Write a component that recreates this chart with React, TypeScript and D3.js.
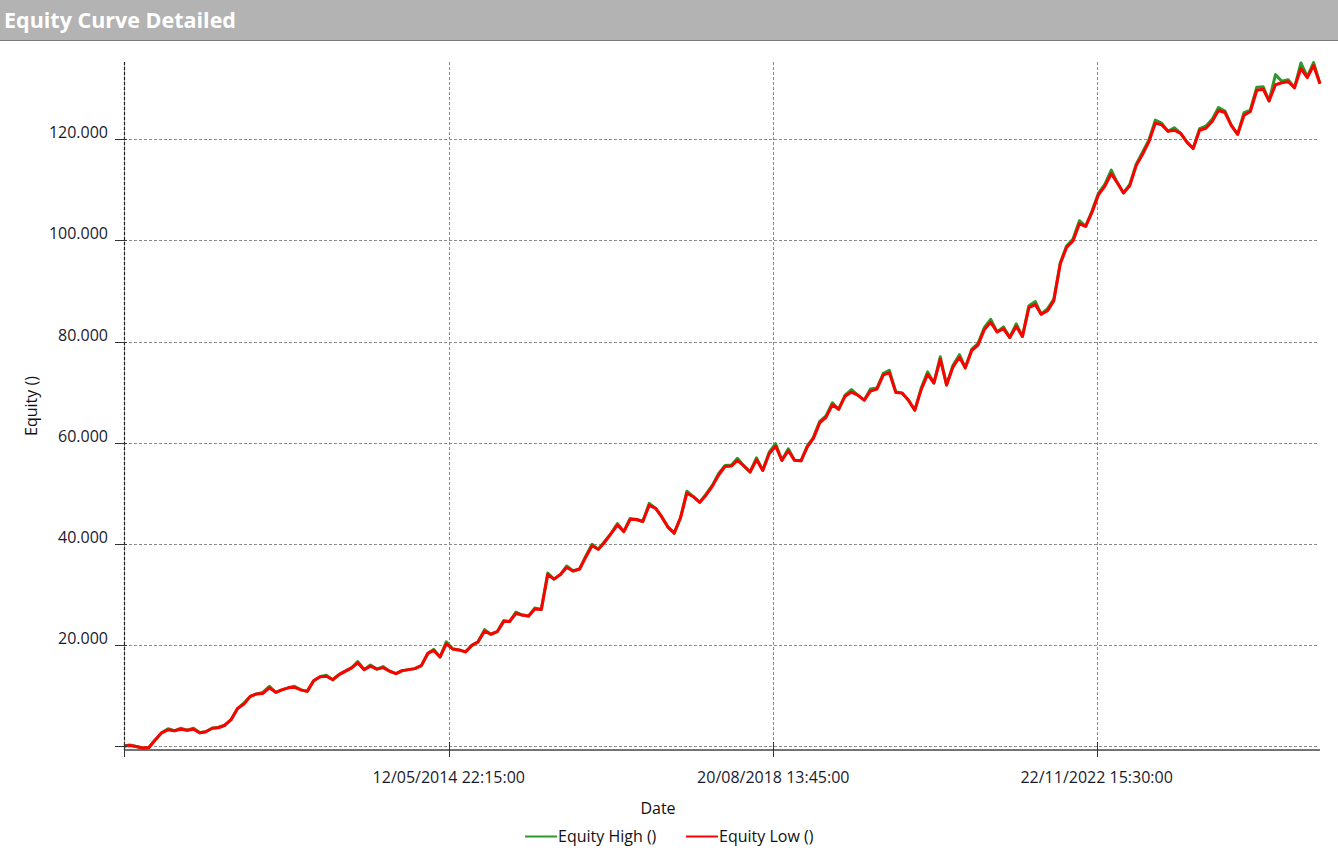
import React from "react";
import * as d3 from "d3";

const W = 1338;
const H = 857;

// Monthly equity samples (thousands), Feb 2010 .. Nov 2025
const equityLow = [
  /*2010*/ 0, 0.1, -0.1, -0.4, -0.3, 1.2, 2.6, 3.2, 3.0, 3.3, 3.1,
  /*2011*/ 3.3, 2.6, 2.8, 3.5, 3.6, 4.1, 5.2, 7.4, 8.3, 9.8, 10.3, 10.4,
  /*2012*/ 11.5, 10.6, 11.1, 11.5, 11.6, 11.1, 10.8, 12.9, 13.7, 13.8, 13.1, 14.1,
  /*2013*/ 14.8, 15.5, 16.4, 15.1, 15.8, 15.2, 15.5, 14.8, 14.3, 14.9, 15.1, 15.3,
  /*2014*/ 15.9, 18.3, 18.9, 17.6, 20.2, 19.2, 19.0, 18.6, 19.9, 20.6, 22.7, 22.1,
  /*2015*/ 22.6, 24.6, 24.6, 26.2, 25.9, 25.7, 27.1, 27.0, 33.9, 33.0, 33.9, 35.3,
  /*2016*/ 34.6, 35.0, 37.3, 39.6, 38.9, 40.3, 42.0, 43.7, 42.4, 44.8, 44.8, 44.4,
  /*2017*/ 47.6, 47.0, 45.4, 43.3, 42.1, 45.2, 50.0, 49.3, 48.2, 49.6, 51.4, 53.6,
  /*2018*/ 55.3, 55.4, 56.5, 55.4, 54.2, 56.6, 54.5, 57.8, 59.3, 56.5, 58.4, 56.5,
  /*2019*/ 56.4, 59.2, 60.8, 63.9, 65.0, 67.5, 66.6, 69.2, 70.0, 69.4, 68.4, 70.2,
  /*2020*/ 70.6, 73.4, 73.8, 69.9, 69.8, 68.4, 66.4, 70.5, 73.5, 71.8, 76.5, 71.4,
  /*2021*/ 75.0, 76.9, 74.8, 78.2, 79.3, 82.4, 83.8, 81.9, 82.5, 80.8, 83.0, 81.0,
  /*2022*/ 86.7, 87.3, 85.4, 86.1, 88.1, 95.4, 98.6, 99.9, 103.3, 102.8, 105.6, 109.0,
  /*2023*/ 110.7, 113.2, 111.5, 109.4, 110.8, 114.8, 117.0, 119.5, 123.2, 122.9, 121.6, 121.8,
  /*2024*/ 121.2, 119.4, 118.2, 121.8, 122.2, 123.6, 125.7, 125.3, 122.7, 121.0, 124.8, 125.5,
  /*2025*/ 129.7, 129.9, 127.6, 130.8, 131.2, 131.4, 130.2, 134.0, 132.2, 134.6, 131.0,
];

const equityHigh = [
  /*2010*/ 0, 0.2, -0.1, -0.4, -0.3, 1.2, 2.6, 3.4, 3.0, 3.5, 3.1,
  /*2011*/ 3.5, 2.6, 2.8, 3.5, 3.7, 4.1, 5.2, 7.4, 8.5, 9.8, 10.3, 10.6,
  /*2012*/ 11.8, 10.6, 11.1, 11.5, 11.8, 11.1, 10.8, 12.9, 13.7, 14.0, 13.1, 14.1,
  /*2013*/ 14.8, 15.5, 16.7, 15.1, 16.0, 15.2, 15.7, 14.8, 14.3, 14.9, 15.1, 15.3,
  /*2014*/ 15.9, 18.3, 19.1, 17.6, 20.6, 19.2, 19.0, 18.6, 19.9, 20.6, 23.0, 22.1,
  /*2015*/ 22.6, 24.8, 24.6, 26.5, 25.9, 25.7, 27.3, 27.0, 34.2, 33.0, 33.9, 35.6,
  /*2016*/ 34.6, 35.0, 37.5, 39.9, 38.9, 40.5, 42.0, 44.0, 42.4, 45.0, 44.8, 44.4,
  /*2017*/ 48.0, 47.0, 45.4, 43.3, 42.1, 45.2, 50.4, 49.3, 48.2, 49.8, 51.6, 53.9,
  /*2018*/ 55.5, 55.6, 56.9, 55.4, 54.2, 57.0, 54.5, 58.1, 59.8, 56.5, 58.8, 56.5,
  /*2019*/ 56.4, 59.4, 61.0, 64.2, 65.3, 67.9, 66.6, 69.4, 70.5, 69.4, 68.4, 70.6,
  /*2020*/ 70.8, 73.7, 74.3, 70.1, 69.8, 68.4, 66.4, 70.8, 74.0, 71.8, 77.0, 71.4,
  /*2021*/ 75.3, 77.4, 74.8, 78.5, 79.6, 82.8, 84.4, 81.9, 82.9, 80.8, 83.5, 81.0,
  /*2022*/ 87.1, 87.9, 85.4, 86.5, 88.4, 95.6, 98.9, 100.3, 103.9, 102.8, 105.9, 109.3,
  /*2023*/ 111.1, 113.9, 111.5, 109.4, 111.1, 115.1, 117.4, 119.9, 123.8, 123.2, 121.6, 122.3,
  /*2024*/ 121.2, 119.4, 118.2, 122.1, 122.6, 124.0, 126.3, 125.6, 122.7, 121.0, 125.3, 125.8,
  /*2025*/ 130.3, 130.4, 127.6, 132.8, 131.5, 131.8, 130.2, 135.1, 132.4, 135.2, 131.0,
];

const yTicks = [0, 20, 40, 60, 80, 100, 120];
const xTickDates = ["2014-05-12T22:15:00", "2018-08-20T13:45:00", "2022-11-22T15:30:00"];
const xTickLabels = ["12/05/2014 22:15:00", "20/08/2018 13:45:00", "22/11/2022 15:30:00"];
const seriesNames = ["Equity High ()", "Equity Low ()"];
const seriesColors = ["#2a9a2a", "#ff0000"];

const FONT = "'Open Sans', 'Noto Sans', sans-serif";

const locale = d3.formatLocale({ decimal: ",", thousands: ".", grouping: [3], currency: ["", ""] });
const fmt = locale.format(",.0f");

export default function App() {
  const months = d3.timeMonth.range(new Date(2010, 1, 1), new Date(2025, 11, 1));
  const x = d3.scaleTime().domain([months[0], months[months.length - 1]]).range([124, 1320]);
  const y = d3.scaleLinear().domain([-0.8, 135.3]).range([750, 62]);

  const lineGen = (vals: number[]) =>
    d3.line<number>().x((_, i) => x(months[i])).y((v) => y(v))(vals) || "";

  const tickDates = xTickDates.map((s) => new Date(s));
  const [x0, x1] = x.range();
  const [yb, yt] = y.range();

  return (
    <svg width={W} height={H} style={{ position: "absolute", left: 0, top: 0, background: "#fff" }} fontFamily={FONT}>
      {/* title bar */}
      <rect x={0} y={0} width={W} height={40} fill="#b3b3b3" />
      <line x1={0} x2={W} y1={40.5} y2={40.5} stroke="#7a7a7a" strokeWidth={1} />
      <text x={4} y={28} fill="#fff" fontSize={21.5} fontWeight={700}>Equity Curve Detailed</text>

      {/* horizontal grid */}
      {yTicks.map((t) => (
        <line key={"g" + t} x1={x0} x2={x1 - 2} y1={Math.round(y(t)) + 0.5} y2={Math.round(y(t)) + 0.5}
          stroke="#8a8a8a" strokeDasharray="3,2" strokeWidth={1} />
      ))}
      {/* vertical grid */}
      {tickDates.map((d, i) => (
        <line key={"v" + i} x1={Math.round(x(d)) + 0.5} x2={Math.round(x(d)) + 0.5} y1={yt} y2={yb}
          stroke="#8a8a8a" strokeDasharray="3,2" strokeWidth={1} />
      ))}

      {/* series */}
      <path d={lineGen(equityHigh)} fill="none" stroke={seriesColors[0]} strokeWidth={3} strokeLinejoin="round" />
      <path d={lineGen(equityLow)} fill="none" stroke={seriesColors[1]} strokeWidth={3} strokeLinejoin="round" />

      {/* y axis */}
      <line x1={x0 + 0.5} x2={x0 + 0.5} y1={yt} y2={yb + 2} stroke="#9a9a9a" strokeWidth={1} />
      <line x1={x0 + 0.5} x2={x0 + 0.5} y1={yt} y2={yb + 2} stroke="#222" strokeWidth={1.2} strokeDasharray="3,2" />
      {yTicks.map((t) => (
        <g key={"yt" + t}>
          <line x1={x0 - 9} x2={x0 + 3} y1={Math.round(y(t)) + 0.5} y2={Math.round(y(t)) + 0.5} stroke="#333" strokeWidth={1} />
          {t !== 0 && (
            <text x={x0 - 16} y={y(t) - 1} textAnchor="end" fontSize={16} fill="#1a1a2e">{fmt(t * 1000)}</text>
          )}
        </g>
      ))}
      <text transform={`translate(37,${(yt + yb) / 2}) rotate(-90)`} textAnchor="middle" fontSize={16} fill="#111">Equity ()</text>

      {/* x axis */}
      <line x1={x0} x2={x1} y1={yb} y2={yb} stroke="#444" strokeWidth={1.6} />
      {[x.domain()[0], ...tickDates].map((d, i) => (
        <line key={"xt" + i} x1={Math.round(x(d)) + 0.5} x2={Math.round(x(d)) + 0.5} y1={yb - 8} y2={yb + 7} stroke="#333" strokeWidth={1} />
      ))}
      {tickDates.map((d, i) => (
        <text key={"xl" + i} x={x(d)} y={783} textAnchor="middle" fontSize={16} fill="#1a1a2e">{xTickLabels[i]}</text>
      ))}
      <text x={658} y={814} textAnchor="middle" fontSize={16} fill="#111">Date</text>

      {/* legend */}
      {seriesNames.map((n, i) => {
        const lx = i === 0 ? 525 : 686;
        return (
          <g key={n}>
            <line x1={lx} x2={lx + 32} y1={836.5} y2={836.5} stroke={seriesColors[i]} strokeWidth={2} />
            <text x={lx + 33} y={842} fontSize={16} fill="#111">{n}</text>
          </g>
        );
      })}
    </svg>
  );
}
